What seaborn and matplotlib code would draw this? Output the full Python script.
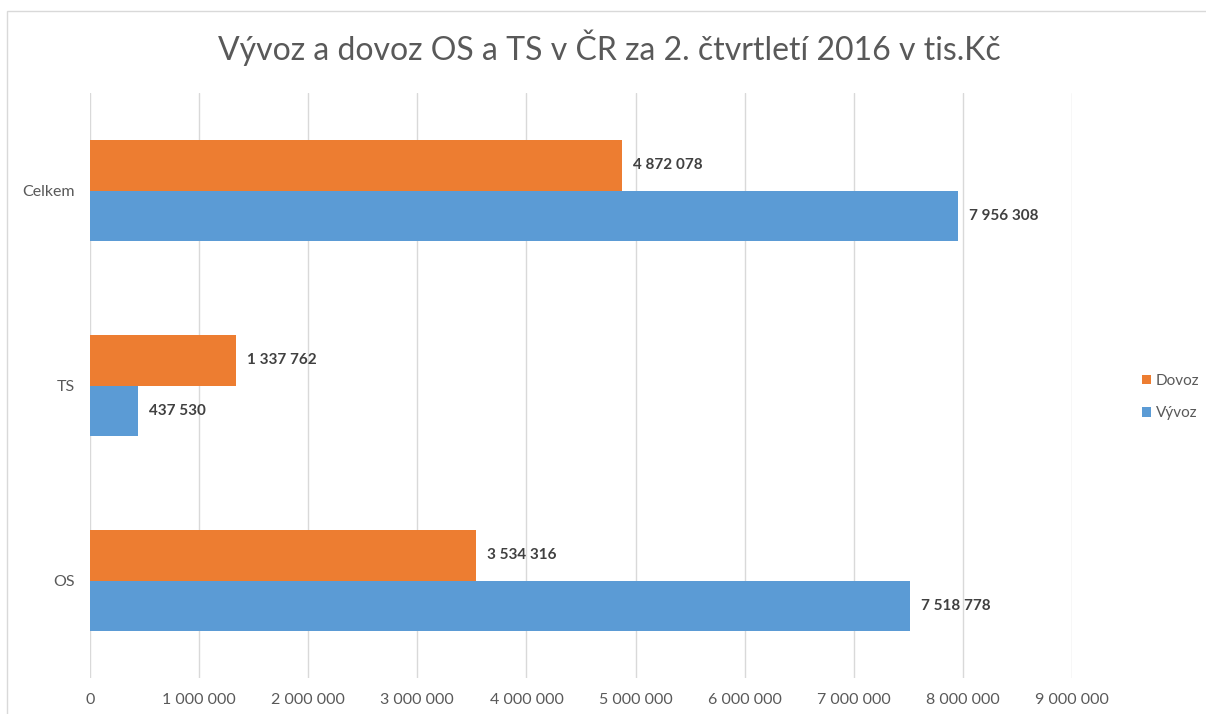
import matplotlib
matplotlib.use("Agg")
import matplotlib.pyplot as plt
from matplotlib.patches import Rectangle, Patch
import seaborn as sns
import pandas as pd

# ---- data ----
categories = ["Celkem", "TS", "OS"]
series_names = ["Dovoz", "Vývoz"]
dovoz = [4872078, 1337762, 3534316]
vyvoz = [7956308, 437530, 7518778]
x_ticks = [0, 1000000, 2000000, 3000000, 4000000, 5000000, 6000000, 7000000, 8000000, 9000000]
title = "Vývoz a dovoz OS a TS v ČR za 2. čtvrtletí 2016 v tis.Kč"
colors = ["#ED7D31", "#5B9BD5"]

df = pd.DataFrame({
    "Kategorie": categories * 2,
    "Řada": [series_names[0]] * len(categories) + [series_names[1]] * len(categories),
    "Hodnota": dovoz + vyvoz,
})


def fmt(v):
    return f"{int(round(v)):,}".replace(",", " ")


sns.set_theme(style="white")
plt.rcParams["font.family"] = ["Lato", "DejaVu Sans"]

W, H = 1206, 714
fig = plt.figure(figsize=(W / 100, H / 100), dpi=100)
fig.patch.set_facecolor("white")

left, right, top, bottom = 90, 1072, 93, 678
ax = fig.add_axes([left / W, 1 - bottom / H, (right - left) / W, (bottom - top) / H])

sns.barplot(data=df, y="Kategorie", x="Hodnota", hue="Řada", order=categories,
            hue_order=series_names, palette=colors, orient="h", width=0.515,
            saturation=1, errorbar=None, legend=False, ax=ax, linewidth=0)

ax.set_xlim(0, 9000000)
ax.set_xticks(x_ticks)
ax.set_xticklabels([fmt(v) for v in x_ticks])
ax.grid(axis="x", color="#D9D9D9", linewidth=1)
ax.grid(axis="y", visible=False)
ax.set_axisbelow(True)
for s in ax.spines.values():
    s.set_visible(False)
ax.set_xlabel("")
ax.set_ylabel("")
ax.tick_params(axis="x", length=0, pad=10.5, labelsize=11.5, labelcolor="#595959")
ax.tick_params(axis="y", length=0, pad=11, labelsize=11.5, labelcolor="#595959")

for cont in ax.containers:
    ax.bar_label(cont, labels=[fmt(v) for v in cont.datavalues], padding=8,
                 fontweight="bold", color="#404040", fontsize=11)

handles = [Patch(facecolor=c, edgecolor="none") for c in colors]
leg = fig.legend(handles, series_names, loc="center left",
                 bbox_to_anchor=(1128 / W, 1 - 397 / H), frameon=False,
                 handlelength=0.6, handleheight=0.6, labelspacing=1.2,
                 handletextpad=0.3, fontsize=11)
for t in leg.get_texts():
    t.set_color("#595959")

fig.text(609 / W, 1 - 48 / H, title, ha="center", va="center", fontsize=23, color="#595959")

fig.add_artist(Rectangle((7 / W, -0.1), 2, 1 - 11 / H + 0.1, transform=fig.transFigure,
                         fill=False, edgecolor="#D9D9D9", linewidth=1))

fig.savefig("out.png", dpi=100)
